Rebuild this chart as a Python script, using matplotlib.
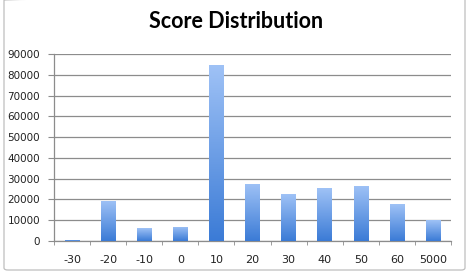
import matplotlib.pyplot as plt
import numpy as np
from matplotlib.colors import LinearSegmentedColormap
from matplotlib.patches import FancyBboxPatch

categories = ["-30", "-20", "-10", "0", "10", "20", "30", "40", "50", "60", "5000"]
counts = [700, 19300, 6100, 6800, 84600, 27500, 22500, 25500, 26600, 17700, 10000]
y_ticks = list(range(0, 90001, 10000))

W, H = 471, 274
fig = plt.figure(figsize=(W / 100, H / 100), dpi=100)
fig.patch.set_facecolor("white")

# chart border like an office chart frame
frame = FancyBboxPatch(
    (4 / W, 4 / H), 461 / W, 272 / H,
    boxstyle="round,pad=0,rounding_size=0.008",
    transform=fig.transFigure, facecolor="none", edgecolor="#bfbfbf", linewidth=0.9,
)
fig.patches.append(frame)

ax = fig.add_axes([54 / W, 1 - 241 / H, 397 / W, 187 / H])

x = np.arange(len(categories))
bars = ax.bar(x, counts, width=0.4, color="none", edgecolor="none", zorder=3)

cmap = LinearSegmentedColormap.from_list("bar", ["#3b7bd6", "#9fc2f6"])
grad = np.linspace(0, 1, 256).reshape(-1, 1)
for b in bars:
    im = ax.imshow(
        grad, cmap=cmap, origin="lower", aspect="auto", zorder=3,
        extent=[b.get_x(), b.get_x() + b.get_width(), 0, b.get_height()],
    )
    im.set_clip_path(b)

ax.set_xlim(-0.5, len(categories) - 0.5)
ax.set_ylim(0, 90000)
ax.set_yticks(y_ticks)
ax.set_yticklabels([str(v) for v in y_ticks])
ax.set_xticks(x)
ax.set_xticklabels(categories)
ax.set_xticks(np.arange(-0.5, len(categories), 1), minor=True)

ax.grid(axis="y", color="#8c8c8c", linewidth=0.9, zorder=0)
ax.set_axisbelow(True)
for side in ["top", "right"]:
    ax.spines[side].set_visible(False)
for side in ["left", "bottom"]:
    ax.spines[side].set_color("#8c8c8c")
    ax.spines[side].set_linewidth(0.9)

ax.tick_params(axis="y", length=4, color="#8c8c8c", labelsize=7.5, pad=6, labelcolor="#222222")
ax.tick_params(axis="x", which="major", length=0, labelsize=8, pad=10, labelcolor="#222222")
ax.tick_params(axis="x", which="minor", length=3, color="#8c8c8c", direction="out")

fig.text(236 / W, 1 - 22 / H, "Score Distribution", ha="center", va="center",
         fontsize=15.5, fontweight="bold", family="Lato")

fig.savefig("out.png", dpi=100)
